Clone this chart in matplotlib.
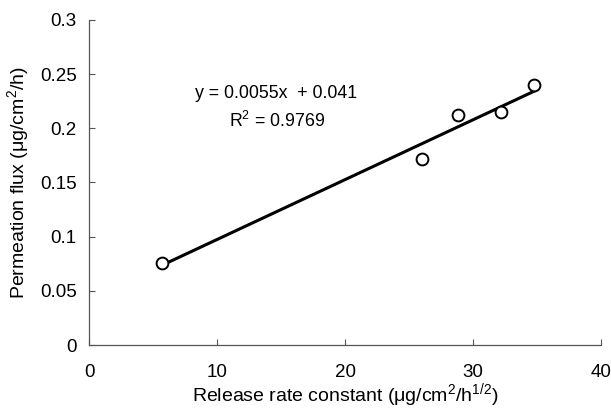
import matplotlib
matplotlib.use("Agg")
import matplotlib.pyplot as plt
import numpy as np

plt.rcParams['font.family'] = ['Liberation Sans', 'DejaVu Sans']
plt.rcParams['mathtext.fontset'] = 'custom'
plt.rcParams['mathtext.rm'] = 'Liberation Sans'
plt.rcParams['mathtext.it'] = 'Liberation Sans:italic'

# Dados
release_rate = [5.7, 26.0, 28.8, 32.2, 34.8]
permeation_flux = [0.076, 0.172, 0.212, 0.215, 0.240]

x_ticks = [0, 10, 20, 30, 40]
y_ticks = [0, 0.05, 0.1, 0.15, 0.2, 0.25, 0.3]
y_tick_labels = ['0', '0.05', '0.1', '0.15', '0.2', '0.25', '0.3']

fig = plt.figure(figsize=(6.11, 4.12), dpi=100)
ax = fig.add_axes([0.1457, 0.1626, 0.8379, 0.7889])

# Linha de tendência (regressão linear)
coef = np.polyfit(release_rate, permeation_flux, 1)
x_fit = np.array([min(release_rate), max(release_rate)])
ax.plot(x_fit, np.polyval(coef, x_fit), color='black', lw=2.2, zorder=2)

ax.plot(release_rate, permeation_flux, linestyle='none', marker='o',
        markersize=8.5, markerfacecolor='white', markeredgecolor='black',
        markeredgewidth=1.4, zorder=3)

ax.set_xlim(0, 40)
ax.set_ylim(0, 0.3)
ax.set_xticks(x_ticks)
ax.set_yticks(y_ticks)
ax.set_yticklabels(y_tick_labels)

for s in ['top', 'right']:
    ax.spines[s].set_visible(False)
for s in ['left', 'bottom']:
    ax.spines[s].set_color('#555555')
    ax.spines[s].set_linewidth(0.9)

ax.tick_params(axis='both', direction='in', length=4, width=0.8,
               color='#555555', labelsize=13.5)
ax.tick_params(axis='x', pad=14)
ax.tick_params(axis='y', pad=9)

ax.set_xlabel('Release rate constant (\u03bcg/cm$^2$/h$^{1/2}$)', fontsize=14, labelpad=0)
ax.set_ylabel('Permeation flux (\u03bcg/cm$^2$/h)', fontsize=14, labelpad=6)

ax.text(0.207, 0.775, 'y = 0.0055x  + 0.041', transform=ax.transAxes,
        fontsize=12.8, ha='left', va='center')
ax.text(0.273, 0.69, 'R$^2$ = 0.9769', transform=ax.transAxes,
        fontsize=12.8, ha='left', va='center')

plt.savefig('out.png', dpi=100)
